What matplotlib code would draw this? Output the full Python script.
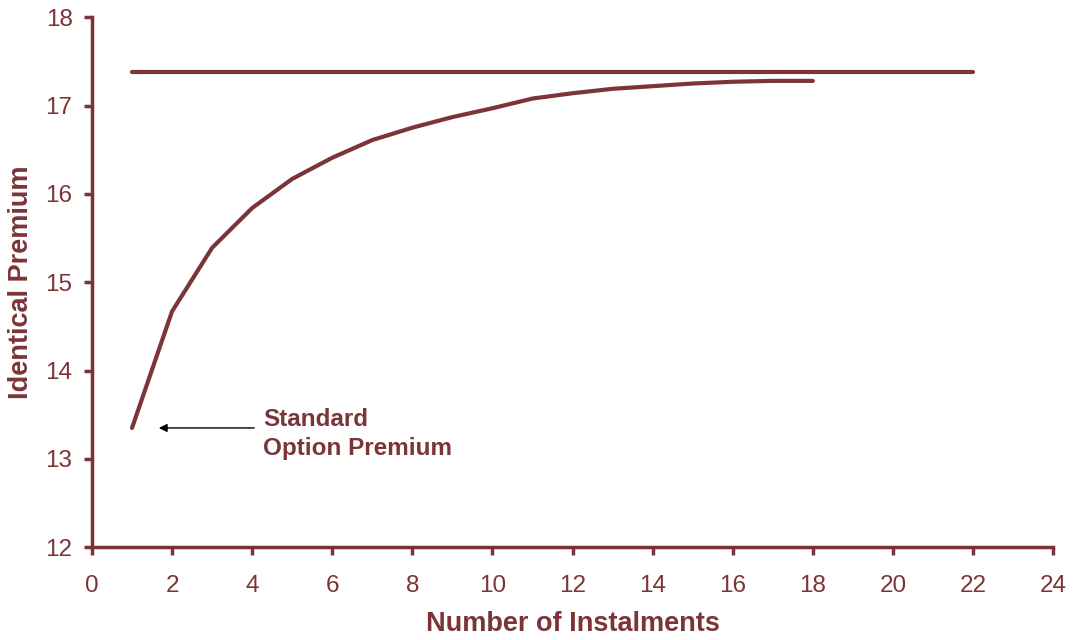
import numpy as np
import matplotlib.pyplot as plt

plt.rcParams['font.family'] = ['Liberation Sans', 'DejaVu Sans']

brown = '#7b3539'

instalments = [1, 2, 3, 4, 5, 6, 7, 8, 9, 10, 11, 12, 13, 14, 15, 16, 17, 18]
premium = [13.35, 14.67, 15.39, 15.84, 16.17, 16.41, 16.61, 16.75, 16.87, 16.97,
           17.08, 17.14, 17.19, 17.22, 17.25, 17.27, 17.28, 17.28]
std_x = list(range(1, 23))
std_premium = [17.38] * len(std_x)

fig = plt.figure(figsize=(10.78, 6.4), dpi=100)
ax = fig.add_axes([0.0853, 0.145, 0.8917, 0.828])

ax.plot(std_x, std_premium, color=brown, lw=3, solid_capstyle='round')
ax.plot(instalments, premium, color=brown, lw=3, solid_capstyle='round')

ax.set_xlim(0, 24)
ax.set_ylim(12, 18)
ax.set_xticks(np.arange(0, 25, 2))
ax.set_yticks(np.arange(12, 19, 1))

for s in ['top', 'right']:
    ax.spines[s].set_visible(False)
for s in ['left', 'bottom']:
    ax.spines[s].set_color(brown)
    ax.spines[s].set_linewidth(2.5)
ax.tick_params(colors=brown, width=2.5, length=6, labelsize=17.5, direction='out')
ax.tick_params(axis='y', pad=8)
ax.tick_params(axis='x', pad=14)

ax.set_xlabel('Number of Instalments', color=brown, fontsize=19.5, fontweight='bold', labelpad=10)
ax.set_ylabel('Identical Premium', color=brown, fontsize=19.5, fontweight='bold', labelpad=8)

ax.annotate('', xy=(1.6, 13.35), xytext=(4.12, 13.35),
            arrowprops=dict(arrowstyle='-|>', color='black', lw=1, mutation_scale=12))
ax.text(4.27, 13.28, 'Standard\nOption Premium', color=brown, fontsize=17.5,
        fontweight='bold', va='center', ha='left', linespacing=1.3)

fig.savefig('out.png', dpi=100)
